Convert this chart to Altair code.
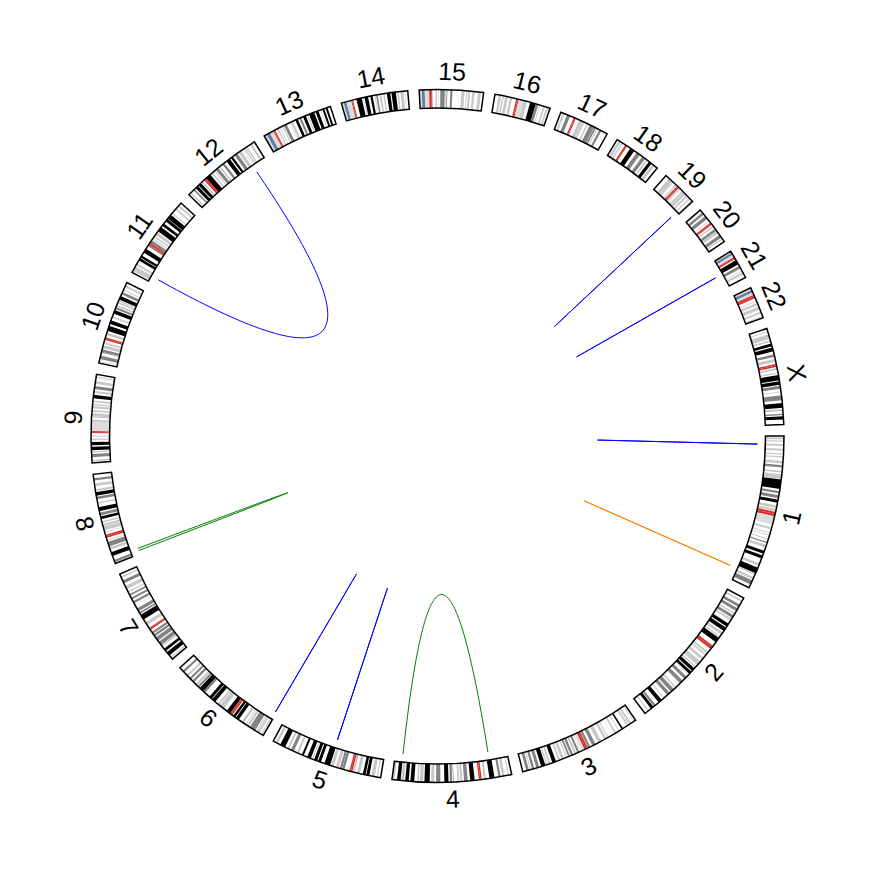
import math
import numpy as np
import pandas as pd
import altair as alt

CHROMS = [str(i) for i in range(1, 23)] + ["X"]
LENGTHS = [249.25, 243.20, 198.02, 191.15, 180.92, 171.12, 159.14, 146.36, 141.21,
           135.53, 135.01, 133.85, 115.17, 107.35, 102.53, 90.35, 81.20, 78.08,
           59.13, 63.03, 48.13, 51.30, 155.27]

# cytobands: (band end in Mb, stain); a band starts where the previous one ends
BANDS_1 = [(2.3,"n"),(5.3,"p25"),(7.1,"n"),(9.1,"p25"),(12.5,"n"),(15.9,"p50"),(20.1,"n"),(23.6,"p25"),
           (27.6,"n"),(29.9,"p25"),(32.3,"n"),(34.3,"p25"),(39.6,"n"),(43.7,"p25"),(46.3,"n"),(50.2,"p75"),
           (55.6,"n"),(58.5,"p50"),(60.8,"n"),(68.5,"p50"),(69.3,"n"),(84.4,"p100"),(87.9,"n"),(91.5,"p75"),
           (94.3,"n"),(99.3,"p75"),(101.8,"n"),(106.7,"p100"),(111.2,"n"),(115.5,"p50"),(117.2,"n"),(120.6,"p50"),
           (121.5,"n"),(125.0,"acen"),(128.9,"acen"),(142.6,"gvar"),(147.0,"n"),(150.3,"p50"),(155.0,"n"),
           (156.5,"p50"),(159.1,"n"),(160.5,"p50"),(165.5,"n"),(167.2,"p50"),(170.9,"n"),(172.9,"p75"),
           (176.0,"n"),(180.3,"p50"),(185.8,"n"),(190.8,"p100"),(193.8,"n"),(198.7,"p100"),(207.2,"n"),
           (211.5,"p25"),(214.5,"n"),(224.1,"p100"),(224.6,"n"),(227.0,"p25"),(230.7,"n"),(234.7,"p50"),
           (236.6,"n"),(243.7,"p75"),(249.25,"n")]
BANDS_2 = [(4.4,"n"),(7.1,"p50"),(12.2,"n"),(16.7,"p75"),(19.2,"n"),(24.0,"p75"),(27.9,"n"),(30.0,"p25"),
           (32.1,"n"),(36.6,"p75"),(38.6,"n"),(41.6,"p50"),(47.6,"n"),(52.9,"p100"),(55.0,"n"),(61.3,"p100"),
           (63.9,"n"),(68.4,"p50"),(71.5,"n"),(73.5,"p50"),(75.0,"n"),(83.3,"p100"),(90.5,"n"),(93.3,"acen"),
           (96.8,"acen"),(102.7,"n"),(106.0,"p50"),(107.5,"n"),(110.2,"p25"),(114.4,"n"),(118.8,"p50"),
           (122.4,"n"),(129.9,"p50"),(132.5,"n"),(135.1,"p25"),(136.8,"n"),(142.2,"p100"),(144.1,"n"),
           (148.7,"p100"),(149.9,"n"),(150.5,"p25"),(154.9,"n"),(159.8,"p75"),(163.7,"n"),(169.7,"p75"),
           (178.0,"n"),(180.6,"p50"),(183.0,"n"),(189.4,"p75"),(191.9,"n"),(197.4,"p75"),(203.3,"n"),
           (204.9,"p50"),(209.0,"n"),(215.3,"p100"),(221.5,"n"),(225.2,"p75"),(226.1,"n"),(231.0,"p100"),
           (235.6,"n"),(237.3,"p50"),(243.2,"n")]
BANDS_3 = [(2.8,"n"),(4.0,"p50"),(8.7,"n"),(11.8,"p50"),(13.3,"n"),(16.4,"p50"),(23.9,"n"),(26.4,"p100"),
           (30.9,"n"),(32.1,"p50"),(36.5,"n"),(39.3,"p50"),(43.6,"n"),(44.1,"p50"),(50.6,"n"),(52.3,"p25"),
           (54.4,"n"),(58.6,"p50"),(63.7,"n"),(69.8,"p50"),(74.2,"n"),(79.8,"p75"),(83.5,"n"),(87.2,"p75"),
           (87.9,"n"),(91.0,"acen"),(93.9,"acen"),(98.3,"gvar"),(100.0,"n"),(100.9,"p25"),(102.8,"n"),
           (106.2,"p75"),(107.9,"n"),(111.3,"p50"),(113.5,"n"),(117.3,"p75"),(119.0,"n"),(121.9,"p75"),
           (123.8,"n"),(125.8,"p25"),(129.2,"n"),(133.7,"p25"),(135.7,"n"),(138.7,"p25"),(142.8,"n"),
           (148.9,"p100"),(152.1,"n"),(155.0,"p50"),(157.0,"n"),(159.0,"p50"),(160.7,"n"),(167.6,"p100"),
           (170.9,"n"),(175.7,"p75"),(179.0,"n"),(182.7,"p75"),(184.5,"n"),(186.0,"p25"),(187.9,"n"),
           (192.3,"p75"),(198.02,"n")]
BANDS_4 = [(4.5,"n"),(6.0,"p25"),(11.3,"n"),(15.2,"p50"),(17.8,"n"),(21.3,"p75"),(27.7,"n"),(35.8,"p100"),
           (41.2,"n"),(44.6,"p50"),(48.2,"n"),(50.4,"acen"),(52.7,"acen"),(59.5,"n"),(66.6,"p100"),
           (70.5,"n"),(76.3,"p75"),(78.9,"n"),(82.4,"p50"),(84.1,"n"),(86.9,"p25"),(92.8,"n"),(93.7,"p75"),
           (95.1,"n"),(98.8,"p75"),(101.1,"n"),(107.7,"p100"),(114.1,"n"),(120.8,"p75"),(123.8,"n"),
           (128.8,"p50"),(131.1,"n"),(139.5,"p100"),(141.5,"n"),(146.8,"p25"),(148.5,"n"),(151.1,"p25"),
           (155.6,"n"),(161.8,"p100"),(164.5,"n"),(170.1,"p100"),(171.9,"n"),(176.3,"p50"),(177.5,"n"),
           (183.2,"p100"),(187.1,"n"),(191.15,"p25")]
BANDS_5 = [(4.5,"n"),(6.3,"p25"),(9.8,"n"),(15.0,"p50"),(18.4,"n"),(23.3,"p100"),(24.6,"n"),(28.9,"p100"),
           (33.8,"n"),(38.4,"p25"),(42.5,"n"),(46.1,"p50"),(48.4,"acen"),(50.7,"acen"),(58.9,"n"),
           (62.9,"p75"),(63.2,"n"),(66.7,"p75"),(68.4,"n"),(73.3,"p50"),(76.9,"n"),(81.4,"p50"),(82.8,"n"),
           (92.3,"p100"),(98.2,"n"),(102.8,"p100"),(104.5,"n"),(109.6,"p100"),(111.5,"n"),(113.1,"p50"),
           (115.2,"n"),(121.4,"p100"),(127.3,"n"),(130.6,"p100"),(136.2,"n"),(139.5,"p25"),(144.5,"n"),
           (149.8,"p75"),(152.7,"n"),(155.7,"p50"),(159.9,"n"),(168.5,"p100"),(172.8,"n"),(176.6,"p25"),
           (180.92,"n")]
BANDS_6 = [(2.3,"n"),(4.2,"p25"),(7.1,"n"),(10.6,"p50"),(11.6,"n"),(13.4,"p25"),(15.2,"n"),(25.2,"p75"),
           (27.0,"n"),(30.4,"p50"),(32.1,"n"),(33.5,"p25"),(36.6,"n"),(40.5,"p25"),(46.2,"n"),(51.8,"p100"),
           (52.9,"n"),(57.0,"p100"),(58.7,"n"),(61.0,"acen"),(63.3,"acen"),(63.4,"n"),(70.0,"p100"),
           (75.9,"n"),(83.9,"p50"),(84.9,"n"),(88.0,"p50"),(93.1,"n"),(99.5,"p100"),(100.6,"n"),
           (105.5,"p100"),(114.6,"n"),(118.3,"p75"),(118.5,"n"),(126.1,"p100"),(127.1,"n"),(130.3,"p75"),
           (131.2,"n"),(135.2,"p50"),(139.0,"n"),(142.8,"p75"),(145.6,"n"),(149.0,"p75"),(152.5,"n"),
           (155.5,"p50"),(161.0,"n"),(164.5,"p75"),(171.12,"n")]
BANDS_7 = [(2.8,"n"),(4.5,"p25"),(7.3,"n"),(13.8,"p100"),(16.5,"n"),(20.9,"p100"),(25.5,"n"),(28.0,"p50"),
           (28.8,"n"),(35.0,"p75"),(37.2,"n"),(43.3,"p75"),(45.4,"n"),(49.0,"p75"),(50.5,"n"),(54.0,"p75"),
           (58.0,"n"),(59.9,"acen"),(61.7,"acen"),(67.0,"n"),(72.2,"p50"),(77.5,"n"),(86.4,"p100"),
           (88.2,"n"),(91.1,"p75"),(92.8,"n"),(98.0,"p75"),(103.8,"n"),(104.5,"p50"),(107.4,"n"),
           (111.2,"p75"),(114.3,"n"),(117.7,"p75"),(121.1,"n"),(123.8,"p75"),(127.1,"n"),(129.2,"p25"),
           (132.6,"n"),(138.2,"p50"),(143.1,"n"),(147.9,"p75"),(152.6,"n"),(155.1,"p25"),(159.14,"n")]
BANDS_8 = [(2.2,"n"),(6.2,"p75"),(12.7,"n"),(19.0,"p100"),(23.3,"n"),(27.4,"p50"),(28.8,"n"),(36.5,"p75"),
           (38.3,"n"),(39.7,"p25"),(43.1,"n"),(45.6,"acen"),(48.1,"acen"),(52.2,"n"),(52.6,"p75"),
           (55.5,"n"),(61.6,"p50"),(62.2,"n"),(66.0,"p50"),(68.0,"n"),(70.5,"p50"),(73.9,"n"),(78.3,"p100"),
           (80.1,"n"),(84.6,"p75"),(86.9,"n"),(93.3,"p100"),(99.0,"n"),(101.6,"p25"),(106.2,"n"),
           (110.5,"p75"),(112.1,"n"),(117.7,"p100"),(119.2,"n"),(122.5,"p50"),(127.3,"n"),(131.5,"p50"),
           (136.4,"n"),(139.9,"p75"),(146.36,"n")]
BANDS_9 = [(2.2,"n"),(4.6,"p25"),(9.0,"n"),(14.2,"p75"),(16.6,"n"),(18.5,"p25"),(19.9,"n"),(25.6,"p100"),
           (28.0,"n"),(33.2,"p100"),(36.3,"n"),(38.4,"p25"),(41.0,"n"),(43.6,"gvar"),(47.3,"n"),
           (49.0,"acen"),(50.7,"acen"),(65.9,"gvar"),(68.7,"p25"),(72.2,"n"),(74.0,"p25"),(79.2,"p50"),
           (81.1,"n"),(84.1,"p50"),(86.9,"n"),(90.4,"p50"),(91.8,"n"),(93.9,"p25"),(96.6,"n"),(99.3,"p25"),
           (102.6,"n"),(108.2,"p100"),(111.3,"n"),(114.9,"p25"),(117.7,"n"),(122.5,"p75"),(125.8,"n"),
           (130.3,"p25"),(133.5,"n"),(134.0,"p25"),(135.9,"n"),(137.4,"p25"),(141.21,"n")]
BANDS_10 = [(3.0,"n"),(3.8,"p25"),(6.6,"n"),(12.2,"p75"),(17.3,"n"),(18.6,"p75"),(18.7,"n"),(22.6,"p75"),
            (24.6,"n"),(29.6,"p50"),(31.3,"n"),(34.4,"p25"),(38.0,"n"),(40.2,"acen"),(42.3,"acen"),
            (46.1,"n"),(49.9,"p25"),(52.9,"n"),(61.2,"p100"),(64.5,"n"),(70.6,"p100"),(74.9,"n"),
            (77.7,"p50"),(82.0,"n"),(87.9,"p100"),(89.5,"n"),(92.9,"p75"),(94.1,"n"),(97.0,"p50"),
            (99.3,"n"),(101.9,"p50"),(103.0,"n"),(104.9,"p25"),(105.8,"n"),(111.9,"p100"),(114.9,"n"),
            (119.1,"p75"),(121.7,"n"),(123.1,"p50"),(127.5,"n"),(130.6,"p50"),(135.53,"n")]
BANDS_11 = [(2.8,"n"),(10.7,"p50"),(12.7,"n"),(16.2,"p50"),(21.7,"n"),(26.1,"p100"),(27.2,"n"),
            (31.0,"p100"),(36.4,"n"),(43.5,"p100"),(48.8,"n"),(51.6,"p75"),(53.7,"acen"),(55.7,"acen"),
            (59.9,"p75"),(61.7,"n"),(63.4,"p25"),(65.9,"n"),(68.4,"p25"),(70.4,"n"),(75.2,"p50"),
            (77.1,"n"),(85.6,"p100"),(88.3,"n"),(92.8,"p100"),(97.2,"n"),(102.1,"p100"),(102.9,"n"),
            (110.4,"p100"),(112.5,"n"),(114.5,"p50"),(121.2,"n"),(123.9,"p50"),(127.8,"n"),(130.8,"p50"),
            (135.01,"n")]
BANDS_12 = [(3.3,"n"),(5.4,"p25"),(10.1,"n"),(12.8,"p75"),(14.8,"n"),(20.0,"p100"),(21.3,"n"),
            (26.5,"p100"),(27.8,"n"),(30.7,"p50"),(33.3,"n"),(35.8,"acen"),(38.2,"acen"),(46.4,"p100"),
            (49.1,"n"),(51.5,"p25"),(54.9,"n"),(56.6,"p25"),(58.1,"n"),(63.1,"p75"),(65.1,"n"),(67.7,"p50"),
            (71.5,"n"),(75.3,"p75"),(79.9,"n"),(86.3,"p100"),(88.6,"n"),(92.2,"p100"),(95.8,"n"),
            (101.2,"p75"),(103.5,"n"),(108.6,"p50"),(111.1,"n"),(111.9,"p25"),(113.9,"n"),(116.4,"p50"),
            (117.7,"n"),(120.3,"p50"),(125.4,"n"),(128.9,"p50"),(133.85,"n")]
BANDS_13 = [(4.5,"gvar"),(10.0,"stalk"),(16.3,"gvar"),(17.9,"acen"),(19.5,"acen"),(23.3,"n"),(25.5,"p25"),
            (27.8,"n"),(28.9,"p25"),(32.2,"n"),(34.0,"p50"),(35.5,"n"),(40.1,"p75"),(45.2,"n"),(45.8,"p25"),
            (47.3,"n"),(50.9,"p50"),(55.3,"n"),(59.6,"p100"),(62.3,"n"),(65.7,"p75"),(68.6,"n"),
            (73.3,"p100"),(75.4,"n"),(77.2,"p50"),(79.0,"n"),(87.7,"p100"),(90.0,"n"),(95.0,"p100"),
            (98.2,"n"),(99.3,"p25"),(101.7,"n"),(104.8,"p100"),(107.0,"n"),(110.3,"p100"),(115.17,"n")]
BANDS_14 = [(3.7,"gvar"),(8.1,"stalk"),(16.1,"gvar"),(17.6,"acen"),(19.1,"acen"),(24.6,"n"),(33.3,"p100"),
            (35.3,"n"),(36.6,"p50"),(37.8,"n"),(43.5,"p100"),(47.2,"n"),(50.9,"p100"),(54.1,"n"),
            (55.5,"p25"),(56.6,"n"),(59.0,"p75"),(62.1,"n"),(64.8,"p50"),(67.9,"n"),(70.2,"p50"),(73.8,"n"),
            (79.3,"p100"),(81.2,"n"),(88.3,"p100"),(90.5,"n"),(92.8,"p25"),(95.4,"n"),(100.4,"p50"),
            (102.2,"n"),(103.0,"p50"),(107.35,"n")]
BANDS_15 = [(3.9,"gvar"),(8.7,"stalk"),(15.8,"gvar"),(19.0,"acen"),(20.7,"acen"),(25.7,"n"),(28.1,"p50"),
            (30.3,"n"),(31.2,"p50"),(33.6,"n"),(40.7,"p75"),(41.4,"n"),(42.7,"p25"),(43.6,"n"),(44.8,"p75"),
            (49.5,"n"),(52.9,"p75"),(59.1,"n"),(59.3,"p25"),(63.7,"n"),(63.9,"p25"),(67.2,"n"),(72.4,"p25"),
            (74.9,"n"),(76.3,"p25"),(78.0,"n"),(81.4,"p50"),(84.7,"n"),(88.5,"p50"),(93.8,"n"),(98.5,"p50"),
            (102.53,"n")]
BANDS_16 = [(6.3,"n"),(10.3,"p50"),(12.0,"n"),(14.5,"p50"),(16.8,"n"),(21.2,"p50"),(24.2,"n"),(28.1,"p50"),
            (34.6,"n"),(36.6,"acen"),(38.6,"acen"),(47.0,"gvar"),(52.6,"p50"),(56.7,"n"),(57.4,"p50"),
            (66.7,"p100"),(70.8,"p75"),(72.9,"n"),(74.1,"p50"),(79.2,"n"),(81.7,"p50"),(84.2,"n"),
            (87.1,"p25"),(88.7,"n"),(90.35,"p25")]
BANDS_17 = [(3.3,"n"),(6.5,"p50"),(10.7,"n"),(16.0,"p75"),(22.2,"n"),(24.0,"acen"),(25.8,"acen"),
            (31.8,"n"),(38.1,"p50"),(38.4,"n"),(40.9,"p25"),(44.9,"n"),(47.4,"p25"),(50.2,"n"),(57.6,"p75"),
            (58.3,"n"),(61.1,"p75"),(62.6,"n"),(64.2,"p50"),(67.1,"n"),(70.9,"p75"),(74.8,"n"),(75.3,"p25"),
            (81.20,"n")]
BANDS_18 = [(2.9,"n"),(7.1,"p50"),(8.5,"n"),(10.9,"p25"),(15.4,"n"),(17.2,"acen"),(19.0,"acen"),
            (25.0,"n"),(32.7,"p100"),(37.2,"n"),(43.5,"p75"),(48.2,"n"),(53.8,"p75"),(56.2,"n"),
            (59.0,"p50"),(61.6,"n"),(66.8,"p100"),(68.7,"n"),(73.1,"p25"),(78.08,"n")]
BANDS_19 = [(6.9,"n"),(13.9,"p25"),(14.0,"n"),(16.3,"p25"),(20.0,"n"),(24.4,"gvar"),(26.5,"acen"),
            (28.6,"acen"),(32.4,"gvar"),(35.5,"n"),(38.3,"p25"),(38.7,"n"),(43.4,"p25"),(45.2,"n"),
            (48.0,"p25"),(51.4,"n"),(53.6,"p25"),(56.3,"n"),(59.13,"p25")]
BANDS_20 = [(5.1,"n"),(9.2,"p75"),(12.1,"n"),(17.9,"p75"),(21.3,"n"),(22.3,"p25"),(25.6,"n"),(27.5,"acen"),
            (29.4,"acen"),(32.1,"n"),(34.4,"p25"),(37.6,"n"),(41.7,"p75"),(42.1,"n"),(46.4,"p25"),
            (49.8,"n"),(55.0,"p75"),(56.5,"n"),(58.4,"p50"),(63.03,"n")]
BANDS_21 = [(2.8,"gvar"),(6.8,"stalk"),(10.9,"gvar"),(13.2,"acen"),(14.3,"acen"),(16.4,"n"),(24.0,"p100"),
            (26.8,"n"),(31.5,"p75"),(35.3,"n"),(36.4,"p50"),(38.3,"n"),(41.6,"p50"),(48.13,"n")]
BANDS_22 = [(3.8,"gvar"),(8.3,"stalk"),(12.2,"gvar"),(14.7,"acen"),(17.9,"acen"),(22.2,"n"),(23.5,"p25"),
            (25.9,"n"),(29.6,"p50"),(32.2,"n"),(37.6,"p50"),(41.0,"n"),(44.2,"p50"),(48.4,"n"),(49.4,"p50"),
            (51.30,"n")]
BANDS_X = [(4.3,"n"),(6.0,"p50"),(9.5,"n"),(17.1,"p50"),(19.3,"n"),(21.9,"p50"),(24.9,"n"),(29.3,"p100"),
           (31.5,"n"),(37.6,"p100"),(42.4,"n"),(46.4,"p75"),(49.8,"n"),(54.8,"p25"),(58.1,"n"),(60.6,"acen"),
           (63.0,"acen"),(64.6,"n"),(67.8,"p50"),(71.8,"n"),(73.9,"p50"),(76.0,"n"),(84.6,"p100"),(86.2,"n"),
           (91.8,"p100"),(93.5,"n"),(98.3,"p75"),(102.6,"n"),(103.7,"p50"),(108.7,"n"),(116.5,"p75"),
           (120.9,"n"),(128.7,"p100"),(130.4,"n"),(133.6,"p25"),(138.0,"n"),(140.3,"p75"),(142.1,"n"),
           (147.1,"p100"),(155.27,"n")]
ALL_BANDS = [BANDS_1, BANDS_2, BANDS_3, BANDS_4, BANDS_5, BANDS_6, BANDS_7, BANDS_8, BANDS_9, BANDS_10,
             BANDS_11, BANDS_12, BANDS_13, BANDS_14, BANDS_15, BANDS_16, BANDS_17, BANDS_18, BANDS_19,
             BANDS_20, BANDS_21, BANDS_22, BANDS_X]

STAIN_COLORS = {"n": "#ffffff", "p25": "#c8c8c8", "p50": "#c8c8c8", "p75": "#828282",
                "p100": "#000000", "gvar": "#dcdcdc", "acen": "#d92f27", "stalk": "#647fa4"}

# links (chromosome, position in Mb) -> (chromosome, position in Mb)
LINK_CHR_A = ["12", "4", "19", "21", "1", "1", "8", "6", "5"]
LINK_POS_A = [110.0, 31.7, 54.0, 24.9, 13.8, 228.7, 6.0, 2.0, 84.0]
LINK_CHR_B = ["11", "4", "19", "21", "1", "1", "8", "6", "5"]
LINK_POS_B = [10.0, 178.0, 54.2, 25.1, 14.0, 228.9, 10.0, 2.2, 84.2]
LINK_COLOR = ["#0000ff", "#008000", "#0000ff", "#0000ff", "#0000ff", "#ff7f00", "#008000", "#0000ff", "#0000ff"]

GAP_MB = 18.2
W, H = 875, 872
R_OUT, R_IN, R_LINK, R_LABEL = 346.5, 328.0, 320.0, 364.0

starts = {}
cum = 0.0
for c, L in zip(CHROMS, LENGTHS):
    starts[c] = cum
    cum += L + GAP_MB
G = cum

theta_scale = alt.Scale(domain=[0, G], range=[math.pi / 2, math.pi / 2 + 2 * math.pi])

chrom_df = pd.DataFrame({
    "chrom": CHROMS,
    "t0": [starts[c] for c in CHROMS],
    "t1": [starts[c] + L for c, L in zip(CHROMS, LENGTHS)],
})
chrom_df["tm"] = (chrom_df["t0"] + chrom_df["t1"]) / 2
phi = chrom_df["tm"] / G * 360.0
chrom_df["ang"] = np.where(phi <= 180, phi - 90, phi + 90) % 360

rows = []
for c, bands in zip(CHROMS, ALL_BANDS):
    prev = 0.0
    for end, stain in bands:
        if stain != "n":
            rows.append({"t0": starts[c] + prev, "t1": starts[c] + end, "col": STAIN_COLORS[stain]})
        prev = end
band_df = pd.DataFrame(rows)

lrows = []
tt = np.linspace(0, 1, 90)
for i in range(len(LINK_CHR_A)):
    pa = (starts[LINK_CHR_A[i]] + LINK_POS_A[i]) / G * 2 * math.pi
    pb = (starts[LINK_CHR_B[i]] + LINK_POS_B[i]) / G * 2 * math.pi
    ax, ay = R_LINK * math.cos(pa), -R_LINK * math.sin(pa)
    bx, by = R_LINK * math.cos(pb), -R_LINK * math.sin(pb)
    for k, t in enumerate(tt):
        # quadratic Bezier with control point at the centre
        x = (1 - t) ** 2 * ax + t ** 2 * bx
        y = (1 - t) ** 2 * ay + t ** 2 * by
        lrows.append({"id": i, "k": k, "x": x, "y": y, "col": LINK_COLOR[i]})
link_df = pd.DataFrame(lrows)

base_chrom = alt.Chart(chrom_df).mark_arc(radius=R_OUT, radius2=R_IN, fill="white").encode(
    theta=alt.Theta("t0:Q", scale=theta_scale, stack=None),
    theta2="t1:Q",
)
bands = alt.Chart(band_df).mark_arc(radius=R_OUT, radius2=R_IN).encode(
    theta=alt.Theta("t0:Q", scale=theta_scale, stack=None),
    theta2="t1:Q",
    fill=alt.Fill("col:N", scale=None),
)
outline = alt.Chart(chrom_df).mark_arc(radius=R_OUT, radius2=R_IN, fillOpacity=0,
                                       stroke="black", strokeWidth=1.5).encode(
    theta=alt.Theta("t0:Q", scale=theta_scale, stack=None),
    theta2="t1:Q",
)
labels = alt.Chart(chrom_df).mark_text(radius=R_LABEL, font="Liberation Sans", fontSize=25,
                                       align="center", baseline="middle", color="black").encode(
    theta=alt.Theta("tm:Q", scale=theta_scale, stack=None),
    angle=alt.Angle("ang:Q", scale=None),
    text="chrom:N",
)
links = alt.Chart(link_df).mark_line(strokeWidth=1).encode(
    x=alt.X("x:Q", scale=alt.Scale(domain=[-W / 2, W / 2]), axis=None),
    y=alt.Y("y:Q", scale=alt.Scale(domain=[-H / 2, H / 2]), axis=None),
    detail="id:N",
    order="k:Q",
    color=alt.Color("col:N", scale=None),
)

chart = alt.layer(base_chrom, bands, outline, links, labels).properties(
    width=W, height=H, padding=0, autosize=alt.AutoSizeParams(type="none"),
    background="white",
).configure_view(stroke=None)

chart.save("out.html", embed_options={"renderer": "svg", "actions": False})
